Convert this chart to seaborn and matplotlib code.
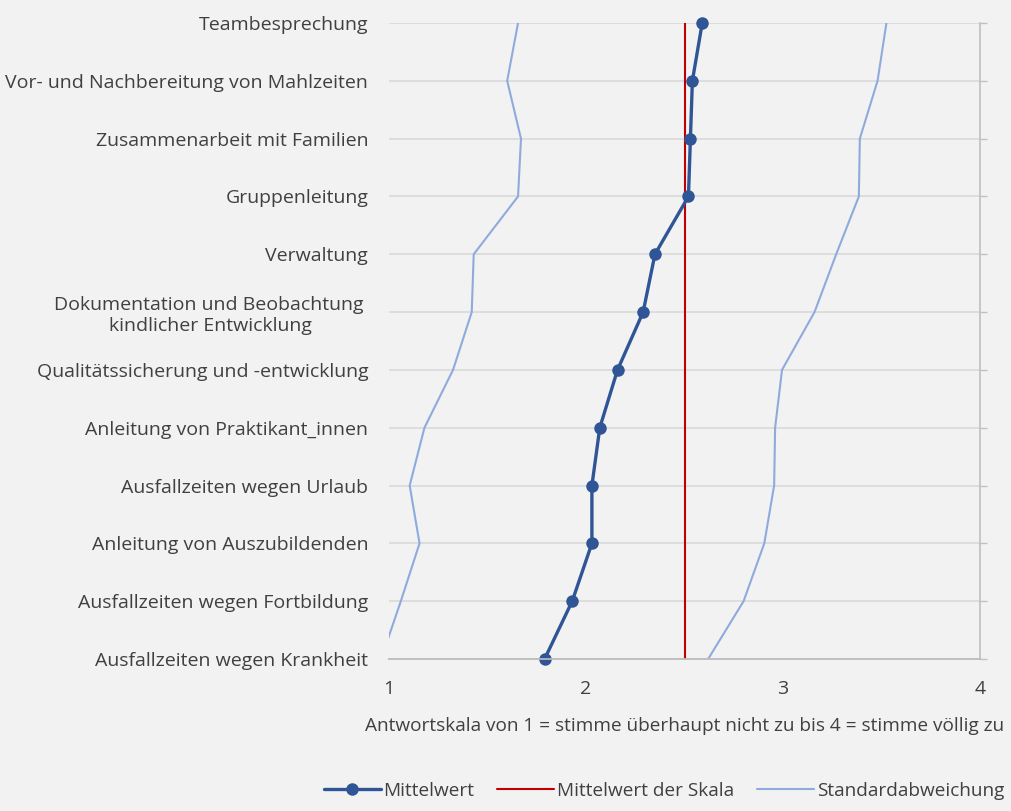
import numpy as np
import pandas as pd
import seaborn as sns
import matplotlib
matplotlib.use('Agg')
import matplotlib.pyplot as plt
from matplotlib.lines import Line2D

# categories, top to bottom
categories = [
    "Teambesprechung",
    "Vor- und Nachbereitung von Mahlzeiten",
    "Zusammenarbeit mit Familien",
    "Gruppenleitung",
    "Verwaltung",
    "Dokumentation und Beobachtung \nkindlicher Entwicklung",
    "Qualitätssicherung und -entwicklung",
    "Anleitung von Praktikant_innen",
    "Ausfallzeiten wegen Urlaub",
    "Anleitung von Auszubildenden",
    "Ausfallzeiten wegen Fortbildung",
    "Ausfallzeiten wegen Krankheit",
]
mittelwert = [2.59, 2.54, 2.53, 2.52, 2.35, 2.29, 2.16, 2.07, 2.03, 2.03, 1.93, 1.79]
std_abw = [0.935, 0.94, 0.86, 0.865, 0.92, 0.87, 0.835, 0.89, 0.925, 0.875, 0.87, 0.83]
skalen_mitte = 2.5

bg = "#f2f2f2"
txt = "#404040"
sns.set_theme(style="white")
plt.rcParams['font.family'] = ['Open Sans', 'DejaVu Sans']
plt.rcParams['text.color'] = txt

df = pd.DataFrame({
    "pos": np.arange(len(categories)),
    "mean": mittelwert,
    "sd": std_abw,
})
df["low"] = df["mean"] - df["sd"]
df["high"] = df["mean"] + df["sd"]

fig = plt.figure(figsize=(10.11, 8.11), dpi=100, facecolor=bg)
ax = fig.add_axes([389/1011, 1 - 659/811, (980-389)/1011, (659-23)/811])
ax.set_facecolor(bg)

# horizontal gridlines
for p in df["pos"]:
    ax.axhline(p, color="#d9d9d9", lw=1.2, zorder=0)

sd_col = "#8faadc"
sns.lineplot(data=df, x="low", y="pos", orient="y", sort=False, color=sd_col, lw=1.5, ax=ax)
sns.lineplot(data=df, x="high", y="pos", orient="y", sort=False, color=sd_col, lw=1.5, ax=ax)
ax.axvline(skalen_mitte, color="#c00000", lw=1.5, zorder=3)
sns.lineplot(data=df, x="mean", y="pos", orient="y", sort=False, color="#2f5597", lw=2.4,
             marker="o", markersize=9, markeredgewidth=0, ax=ax, zorder=4)
# let the end markers stick out of the axes
ax.lines[-1].set_clip_on(False)

ax.set_xlim(1, 4)
ax.set_ylim(len(categories) - 1, 0)
ax.set_xticks([1, 2, 3, 4])
ax.set_xticklabels(["1", "2", "3", "4"], fontsize=14, color=txt)
ax.set_yticks(df["pos"])
ax.set_yticklabels(categories, fontsize=14, color=txt, multialignment="center")
ax.tick_params(axis="y", length=0, pad=15)
ax.tick_params(axis="x", length=0, pad=15)
ax.set_xlabel("Antwortskala von 1 = stimme überhaupt nicht zu bis 4 = stimme völlig zu",
              fontsize=13.7, color=txt, labelpad=14)
ax.set_ylabel("")

# right axis with small ticks
ax2 = ax.twinx()
ax2.set_ylim(ax.get_ylim())
ax2.set_yticks(df["pos"])
ax2.set_yticklabels([])
ax2.tick_params(axis="y", length=5, width=1, color="#bfbfbf", direction="out")
for a in (ax, ax2):
    for s in ["top", "left"]:
        a.spines[s].set_visible(False)
    a.spines["right"].set_color("#bfbfbf")
    a.spines["bottom"].set_color("#bfbfbf")
    a.spines["right"].set_linewidth(1.2)
    a.spines["bottom"].set_linewidth(1.2)
ax.spines["right"].set_visible(False)

handles = [
    Line2D([], [], color="#2f5597", lw=2.4, marker="o", markersize=9, markeredgewidth=0),
    Line2D([], [], color="#c00000", lw=1.5),
    Line2D([], [], color=sd_col, lw=1.5),
]
fig.legend(handles, ["Mittelwert", "Mittelwert der Skala", "Standardabweichung"],
           loc="center", bbox_to_anchor=(664/1011, 1 - 791/811), ncol=3, frameon=False,
           fontsize=13.7, handlelength=3.0, columnspacing=1.2, handletextpad=0.15)

fig.savefig("out.png", dpi=100, facecolor=bg)
